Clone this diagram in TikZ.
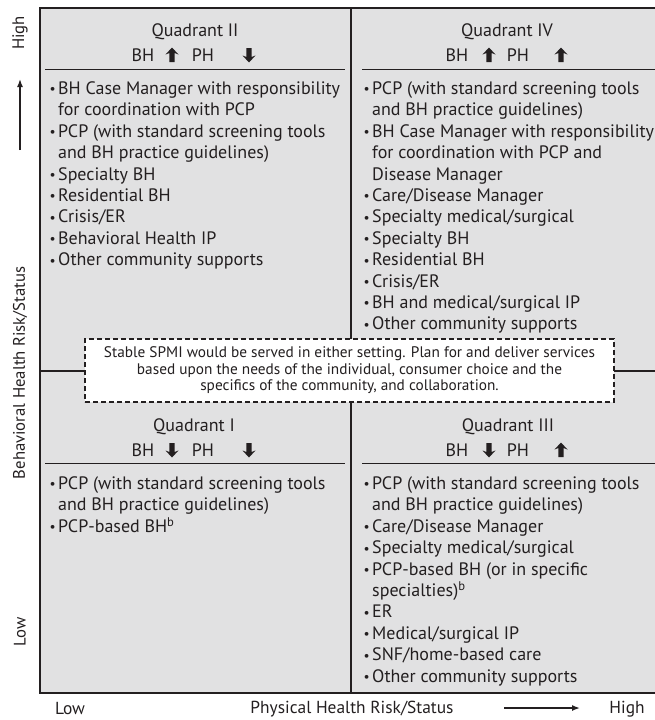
\documentclass[tikz,border=0pt]{standalone}
\usepackage{fontspec}
\setmainfont{PT Sans}
\usetikzlibrary{arrows.meta}
\definecolor{qfill}{RGB}{225,225,226}
\definecolor{ink}{RGB}{35,31,32}
\newcommand\bl{\makebox[8.5pt][l]{\raisebox{0.6pt}{\scalebox{0.75}{•}}}}
\newcommand\ct{\hspace*{8.5pt}}
\newcommand\fs{\rule{0pt}{13pt}}
\begin{document}
\begin{tikzpicture}[x=1pt,y=-1pt,
  every node/.style={inner sep=0pt, text=ink},
  lbl/.style={font=\fontsize{18}{21}\selectfont},
  axlbl/.style={font=\fontsize{17.4}{20}\selectfont},
  listtxt/.style={anchor=north west, align=left, font=\fontsize{18}{21.4}\selectfont},
  hdrrule/.style={draw=ink, line width=1pt},
  uparr/.pic={\fill[ink] (0,-7.5) -- (6.5,-0.5) -- (2.6,-2) -- (2.6,7) -- (-2.6,7) -- (-2.6,-2) -- (-6.5,-0.5) -- cycle;},
  dnarr/.pic={\fill[ink] (0,7.5) -- (6.5,0.5) -- (2.6,2) -- (2.6,-7) -- (-2.6,-7) -- (-2.6,2) -- (-6.5,0.5) -- cycle;},
  axisarrow/.style={draw=ink, line width=1.5pt, -{Latex[length=8pt,width=6pt]}}
]
\useasboundingbox (0,0) rectangle (655,720);
% background and dividers
\fill[qfill] (40,8) rectangle (664,693);
\draw[ink, line width=2pt] (351,8) -- (351,693);
\draw[ink, line width=2pt] (40,371) -- (664,371);
\draw[ink, line width=2.5pt] (40,8) rectangle (664,693);
% header rules
\draw[hdrrule] (45,69) -- (345,69);
\draw[hdrrule] (362,69) -- (655,69);
\draw[hdrrule] (45,463) -- (345,463);
\draw[hdrrule] (362,463) -- (655,463);

% Quadrant II header
\node[lbl, anchor=base] (q2t) at (195,36.3) {Quadrant II};
\node[lbl, anchor=base] (q2bh) at (143,61.3) {BH};
\node[lbl, anchor=base] (q2ph) at (203,61.3) {PH};
\pic at (172,55) {uparr};
\pic at (249,55) {dnarr};
% Quadrant IV header
\node[lbl, anchor=base] (q4t) at (507,36.3) {Quadrant IV};
\node[lbl, anchor=base] (q4bh) at (457,61.3) {BH};
\node[lbl, anchor=base] (q4ph) at (518,61.3) {PH};
\pic at (489,55) {uparr};
\pic at (561,55) {uparr};
% Quadrant I header
\node[lbl, anchor=base] (q1t) at (194,431.3) {Quadrant I};
\node[lbl, anchor=base] (q1bh) at (143,456.3) {BH};
\node[lbl, anchor=base] (q1ph) at (203,456.3) {PH};
\pic at (172,450) {dnarr};
\pic at (249,450) {dnarr};
% Quadrant III header
\node[lbl, anchor=base] (q3t) at (508,431.3) {Quadrant III};
\node[lbl, anchor=base] (q3bh) at (457,456.3) {BH};
\node[lbl, anchor=base] (q3ph) at (518,456.3) {PH};
\pic at (489,450) {dnarr};
\pic at (561,450) {uparr};

% lists
\node[listtxt] (q2list) at (49.5,81.3) {\fs\bl BH Case Manager with responsibility\\
\ct for coordination with PCP\\
\bl PCP (with standard screening tools\\
\ct and BH practice guidelines)\\
\bl Specialty BH\\
\bl Residential BH\\
\bl Crisis/ER\\
\bl Behavioral Health IP\\
\bl Other community supports};

\node[listtxt] (q4list) at (363.5,81.3) {\fs\bl PCP (with standard screening tools\\
\ct and BH practice guidelines)\\
\bl BH Case Manager with responsibility\\
\ct for coordination with PCP and\\
\ct Disease Manager\\
\bl Care/Disease Manager\\
\bl Specialty medical/surgical\\
\bl Specialty BH\\
\bl Residential BH\\
\bl Crisis/ER\\
\bl BH and medical/surgical IP\\
\bl Other community supports};

\node[listtxt] (q1list) at (49.5,476.3) {\fs\bl PCP (with standard screening tools\\
\ct and BH practice guidelines)\\
\bl PCP-based BH\textsuperscript{b}};

\node[listtxt] (q3list) at (363.5,476.3) {\fs\bl PCP (with standard screening tools\\
\ct and BH practice guidelines)\\
\bl Care/Disease Manager\\
\bl Specialty medical/surgical\\
\bl PCP-based BH (or in specific\\
\ct specialties)\textsuperscript{b}\\
\bl ER\\
\bl Medical/surgical IP\\
\bl SNF/home-based care\\
\bl Other community supports};

% dashed note
\node[draw=ink, fill=white, line width=1.2pt, dash pattern=on 5pt off 3pt,
  minimum width=529pt, minimum height=63pt, align=center,
  font=\fontsize{15.3}{16.5}\selectfont] (note) at (349.5,370.5)
  {Stable SPMI would be served in either setting. Plan for and deliver services\\
   based upon the needs of the individual, consumer choice and the\\
   specifics of the community, and collaboration.};

% vertical axis
\node[axlbl, rotate=90, font=\fontsize{16.7}{20}\selectfont] (yhigh) at (20,33) {High};
\node[axlbl, rotate=90, font=\fontsize{16.7}{20}\selectfont] (ytitle) at (20,373) {Behavioral Health Risk/Status};
\node[axlbl, rotate=90, font=\fontsize{16.7}{20}\selectfont] (ylow) at (20,632) {Low};
\coordinate (ya) at (20,150);
\coordinate (yb) at (20,79);
\draw[axisarrow] (ya) -- (yb);
% horizontal axis
\node[axlbl] (xlow) at (70,709) {Low};
\node[axlbl] (xtitle) at (352,709) {Physical Health Risk/Status};
\node[axlbl] (xhigh) at (627,709) {High};
\coordinate (xa) at (504,708);
\coordinate (xb) at (580,708);
\draw[axisarrow] (xa) -- (xb);
\end{tikzpicture}
\end{document}
